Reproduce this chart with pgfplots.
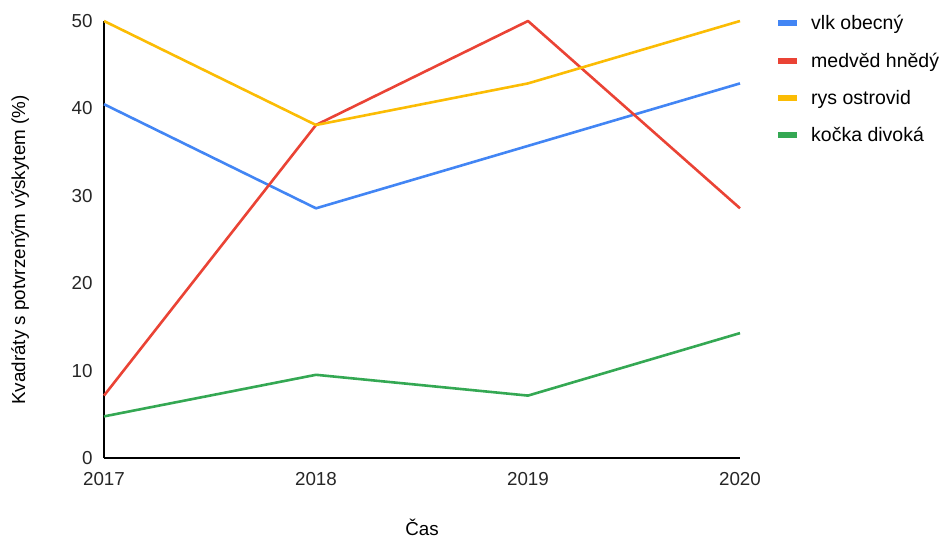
\documentclass[border=0pt]{standalone}
\usepackage{fontspec}
\setmainfont{Liberation Sans}
\usepackage{pgfplots}
\pgfplotsset{compat=1.18}
\definecolor{gblue}{HTML}{4285F4}
\definecolor{gred}{HTML}{EA4335}
\definecolor{gyellow}{HTML}{FBBC04}
\definecolor{ggreen}{HTML}{34A853}
\begin{document}
\begin{tikzpicture}[x=1pt,y=1pt]
\path (0,0) rectangle (943,538);
\begin{axis}[
  at={(104pt,80pt)}, anchor=south west,
  scale only axis, width=636pt, height=437pt,
  xmin=2017, xmax=2020, ymin=0, ymax=50,
  xtick={2017,2018,2019,2020},
  xticklabels={2017,2018,2019,2020},
  ytick={0,10,20,30,40,50},
  axis x line*=bottom, axis y line*=left,
  axis line style={black, line width=1.2pt, -},
  major tick length=0pt,
  tick style={draw=none},
  /pgf/number format/assume math mode=true,
  every tick label/.append style={font=\fontsize{18.8}{22}\selectfont, text=black!85},
  yticklabel style={xshift=-8pt},
  xticklabel style={yshift=-11pt},
  xlabel={Čas}, ylabel={Kvadráty s potvrzeným výskytem (\%)},
  every axis x label/.style={at={(axis description cs:0.5,-0.158)}, anchor=center, font=\fontsize{18.8}{22}\selectfont},
  every axis y label/.style={at={(axis description cs:-0.132,0.476)}, anchor=center, rotate=90, font=\fontsize{18.8}{22}\selectfont},
  clip=false,
  legend style={at={(1.055,1.018)}, anchor=north west, draw=none, fill=none,
    font=\fontsize{19.5}{22}\selectfont, row sep=17.5pt, inner sep=0pt,
    /tikz/every odd column/.append style={column sep=9pt}},
  legend cell align=left,
  legend image code/.code={\draw[line width=6pt] (0pt,0pt) -- (19pt,0pt);},
  every axis plot/.append style={line width=2.6pt, line join=round},
]
\addplot[gblue] coordinates {(2017,40.48) (2018,28.57) (2019,35.71) (2020,42.86)};
\addlegendentry{vlk obecný}
\addplot[gred] coordinates {(2017,7.14) (2018,38.10) (2019,50) (2020,28.57)};
\addlegendentry{medvěd hnědý}
\addplot[gyellow] coordinates {(2017,50) (2018,38.10) (2019,42.86) (2020,50)};
\addlegendentry{rys ostrovid}
\addplot[ggreen] coordinates {(2017,4.76) (2018,9.52) (2019,7.14) (2020,14.29)};
\addlegendentry{kočka divoká}
\end{axis}
\end{tikzpicture}
\end{document}
